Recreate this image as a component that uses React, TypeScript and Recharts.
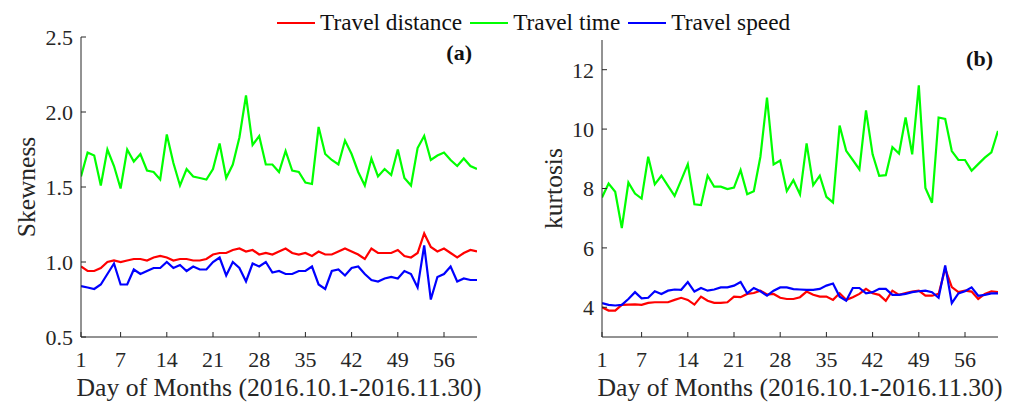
import React from 'react';
import { LineChart, Line, XAxis, YAxis, Legend } from 'recharts';

const days: number[] = Array.from({ length: 61 }, (_, i) => i + 1);
const xTicks = [1, 7, 14, 21, 28, 35, 42, 49, 56];

// Panel (a): Skewness
const skewDistance = [0.97,0.94,0.94,0.96,1.00,1.01,1.00,1.01,1.02,1.02,1.01,1.03,1.04,1.03,1.01,1.02,1.02,1.01,1.01,1.02,1.05,1.06,1.06,1.08,1.09,1.07,1.08,1.05,1.06,1.05,1.07,1.09,1.06,1.05,1.06,1.04,1.07,1.05,1.05,1.07,1.09,1.07,1.05,1.02,1.09,1.06,1.06,1.06,1.08,1.04,1.03,1.06,1.19,1.10,1.07,1.09,1.06,1.03,1.06,1.08,1.07];
const skewTime = [1.57,1.73,1.71,1.51,1.75,1.64,1.49,1.75,1.67,1.72,1.61,1.60,1.55,1.85,1.66,1.51,1.62,1.57,1.56,1.55,1.62,1.79,1.56,1.65,1.83,2.11,1.78,1.84,1.65,1.65,1.60,1.74,1.61,1.60,1.53,1.52,1.90,1.72,1.68,1.65,1.81,1.72,1.60,1.51,1.69,1.57,1.62,1.58,1.75,1.56,1.51,1.76,1.84,1.68,1.71,1.73,1.68,1.64,1.69,1.64,1.62];
const skewSpeed = [0.84,0.83,0.82,0.85,0.92,0.99,0.85,0.85,0.95,0.92,0.94,0.96,0.96,1.00,0.96,0.98,0.94,0.97,0.95,0.95,1.00,1.03,0.91,1.00,0.96,0.87,0.99,0.97,1.00,0.93,0.94,0.92,0.92,0.94,0.94,0.97,0.85,0.82,0.94,0.95,0.91,0.96,0.97,0.92,0.88,0.87,0.89,0.90,0.89,0.94,0.92,0.83,1.11,0.75,0.90,0.92,0.97,0.87,0.89,0.88,0.88];

// Panel (b): Kurtosis
const kurtDistance = [4.00,3.89,3.89,4.08,4.09,4.10,4.08,4.15,4.17,4.17,4.17,4.25,4.32,4.25,4.09,4.36,4.22,4.15,4.15,4.17,4.36,4.34,4.45,4.48,4.56,4.43,4.45,4.32,4.28,4.28,4.34,4.53,4.42,4.36,4.36,4.25,4.47,4.25,4.34,4.45,4.62,4.47,4.42,4.22,4.56,4.42,4.48,4.53,4.56,4.39,4.39,4.45,5.30,4.68,4.51,4.56,4.53,4.28,4.45,4.54,4.51];
const kurtTime = [7.70,8.17,7.89,6.67,8.20,7.83,7.66,9.07,8.14,8.43,8.09,7.75,8.28,8.82,7.47,7.44,8.43,8.06,8.06,7.98,8.03,8.62,7.81,7.91,9.07,11.06,8.81,8.94,7.91,8.28,7.80,9.52,8.11,8.43,7.72,7.53,10.12,9.27,8.96,8.64,10.63,9.15,8.43,8.45,9.39,9.18,10.39,9.15,11.47,8.02,7.52,10.39,10.34,9.26,8.96,8.96,8.60,8.82,9.04,9.22,9.94];
const kurtSpeed = [4.14,4.08,4.06,4.08,4.28,4.51,4.30,4.32,4.54,4.45,4.56,4.60,4.59,4.85,4.53,4.65,4.56,4.60,4.67,4.67,4.73,4.85,4.47,4.65,4.54,4.39,4.56,4.67,4.67,4.61,4.60,4.59,4.59,4.62,4.73,4.80,4.36,4.22,4.65,4.65,4.47,4.51,4.62,4.62,4.42,4.42,4.45,4.51,4.54,4.56,4.51,4.32,5.41,4.14,4.47,4.54,4.67,4.39,4.42,4.47,4.47];

const skewTicks = [0.5, 1.0, 1.5, 2.0, 2.5];
const kurtTicks = [4, 6, 8, 10, 12];

const seriesNames = ['Travel distance', 'Travel time', 'Travel speed'];
const seriesColors = ['#ff0000', '#00ff00', '#0000ff'];

const skewData = days.map((d, i) => ({ day: d, distance: skewDistance[i], time: skewTime[i], speed: skewSpeed[i] }));
const kurtData = days.map((d, i) => ({ day: d, distance: kurtDistance[i], time: kurtTime[i], speed: kurtSpeed[i] }));

const FONT = '"Liberation Serif", "Times New Roman", serif';
const AX = '#262626';

const tickStyle = { fontFamily: FONT, fontSize: 22, fill: AX };

const LegendContent = (props: any) => {
  const payload = [...(props.payload || [])].sort(
    (a: any, b: any) => seriesNames.indexOf(a.value) - seriesNames.indexOf(b.value)
  );
  return (
    <div style={{ display: 'flex', alignItems: 'center', whiteSpace: 'nowrap', fontFamily: FONT, fontSize: 23.3, color: '#111' }}>
      {payload.map((p: any, i: number) => (
        <div key={i} style={{ display: 'flex', alignItems: 'center', marginRight: 8 }}>
          <svg width={38} height={10} style={{ marginRight: 5 }}>
            <line x1={0} y1={5} x2={38} y2={5} stroke={p.color} strokeWidth={2.2} />
          </svg>
          <span>{p.value}</span>
        </div>
      ))}
    </div>
  );
};

const yLabel = (text: string, cx: number) => (props: any) => {
  const vb = props.viewBox || {};
  const cy = vb.y + vb.height / 2;
  return (
    <text x={cx} y={cy} transform={`rotate(-90, ${cx}, ${cy})`} textAnchor="middle" dominantBaseline="central"
      style={{ fontFamily: FONT, fontSize: 25.5, fill: AX }}>{text}</text>
  );
};

const xLabel = (props: any) => {
  const vb = props.viewBox || {};
  const cx = vb.x + vb.width / 2;
  return (
    <text x={cx} y={396} textAnchor="middle" style={{ fontFamily: FONT, fontSize: 25.7, fill: AX }}>
      Day of Months (2016.10.1-2016.11.30)
    </text>
  );
};

function Panel({ data, ticks, domain, yName, yLabelX, tag, tagX, tagY, left, width, margin, withLegend }: any) {
  return (
    <div style={{ position: 'absolute', left, top: 0 }}>
      <LineChart width={width} height={403} data={data} margin={margin}>
        <XAxis dataKey="day" type="number" domain={[1, 61]} ticks={xTicks} allowDataOverflow
          tickSize={-5} tickMargin={19} tick={tickStyle} stroke={AX} height={60}
          axisLine={{ stroke: AX }} tickLine={{ stroke: AX }} label={{ content: xLabel }} interval={0} />
        <YAxis type="number" domain={domain} ticks={ticks} allowDataOverflow width={60}
          tickSize={-5} tickMargin={13} tick={tickStyle} stroke={AX} interval={0}
          tickFormatter={(v: number) => (yName === 'Skewness' ? v.toFixed(1) : String(v))}
          axisLine={{ stroke: AX }} tickLine={{ stroke: AX }} label={{ content: yLabel(yName, yLabelX) }} />
        {withLegend && (
          <Legend verticalAlign="middle" align="center" layout="horizontal" content={LegendContent}
            wrapperStyle={{ left: 277, top: 9, width: 'auto' }} />
        )}
        <Line dataKey="distance" name={seriesNames[0]} stroke={seriesColors[0]} strokeWidth={2.2} dot={false} isAnimationActive={false} />
        <Line dataKey="time" name={seriesNames[1]} stroke={seriesColors[1]} strokeWidth={2.2} dot={false} isAnimationActive={false} />
        <Line dataKey="speed" name={seriesNames[2]} stroke={seriesColors[2]} strokeWidth={2.2} dot={false} isAnimationActive={false} />
        <text x={tagX} y={tagY} textAnchor="end" style={{ fontFamily: FONT, fontSize: 22, fontWeight: 'bold', fill: '#111' }}>{tag}</text>
      </LineChart>
    </div>
  );
}

export default function App() {
  return (
    <div style={{ position: 'absolute', left: 0, top: 0, width: 1013, height: 403, background: '#fff', overflow: 'hidden' }}>
      <Panel data={skewData} ticks={skewTicks} domain={[0.5, 2.5]} yName="Skewness" yLabelX={26}
        tag="(a)" tagX={472} tagY={60} left={0} width={506}
        margin={{ top: 37, right: 29, bottom: 6, left: 21 }} withLegend />
      <Panel data={kurtData} ticks={kurtTicks} domain={[3, 13]} yName="kurtosis" yLabelX={47}
        tag="(b)" tagX={487} tagY={66} left={506} width={507}
        margin={{ top: 40, right: 15, bottom: 6, left: 36 }} />
    </div>
  );
}
